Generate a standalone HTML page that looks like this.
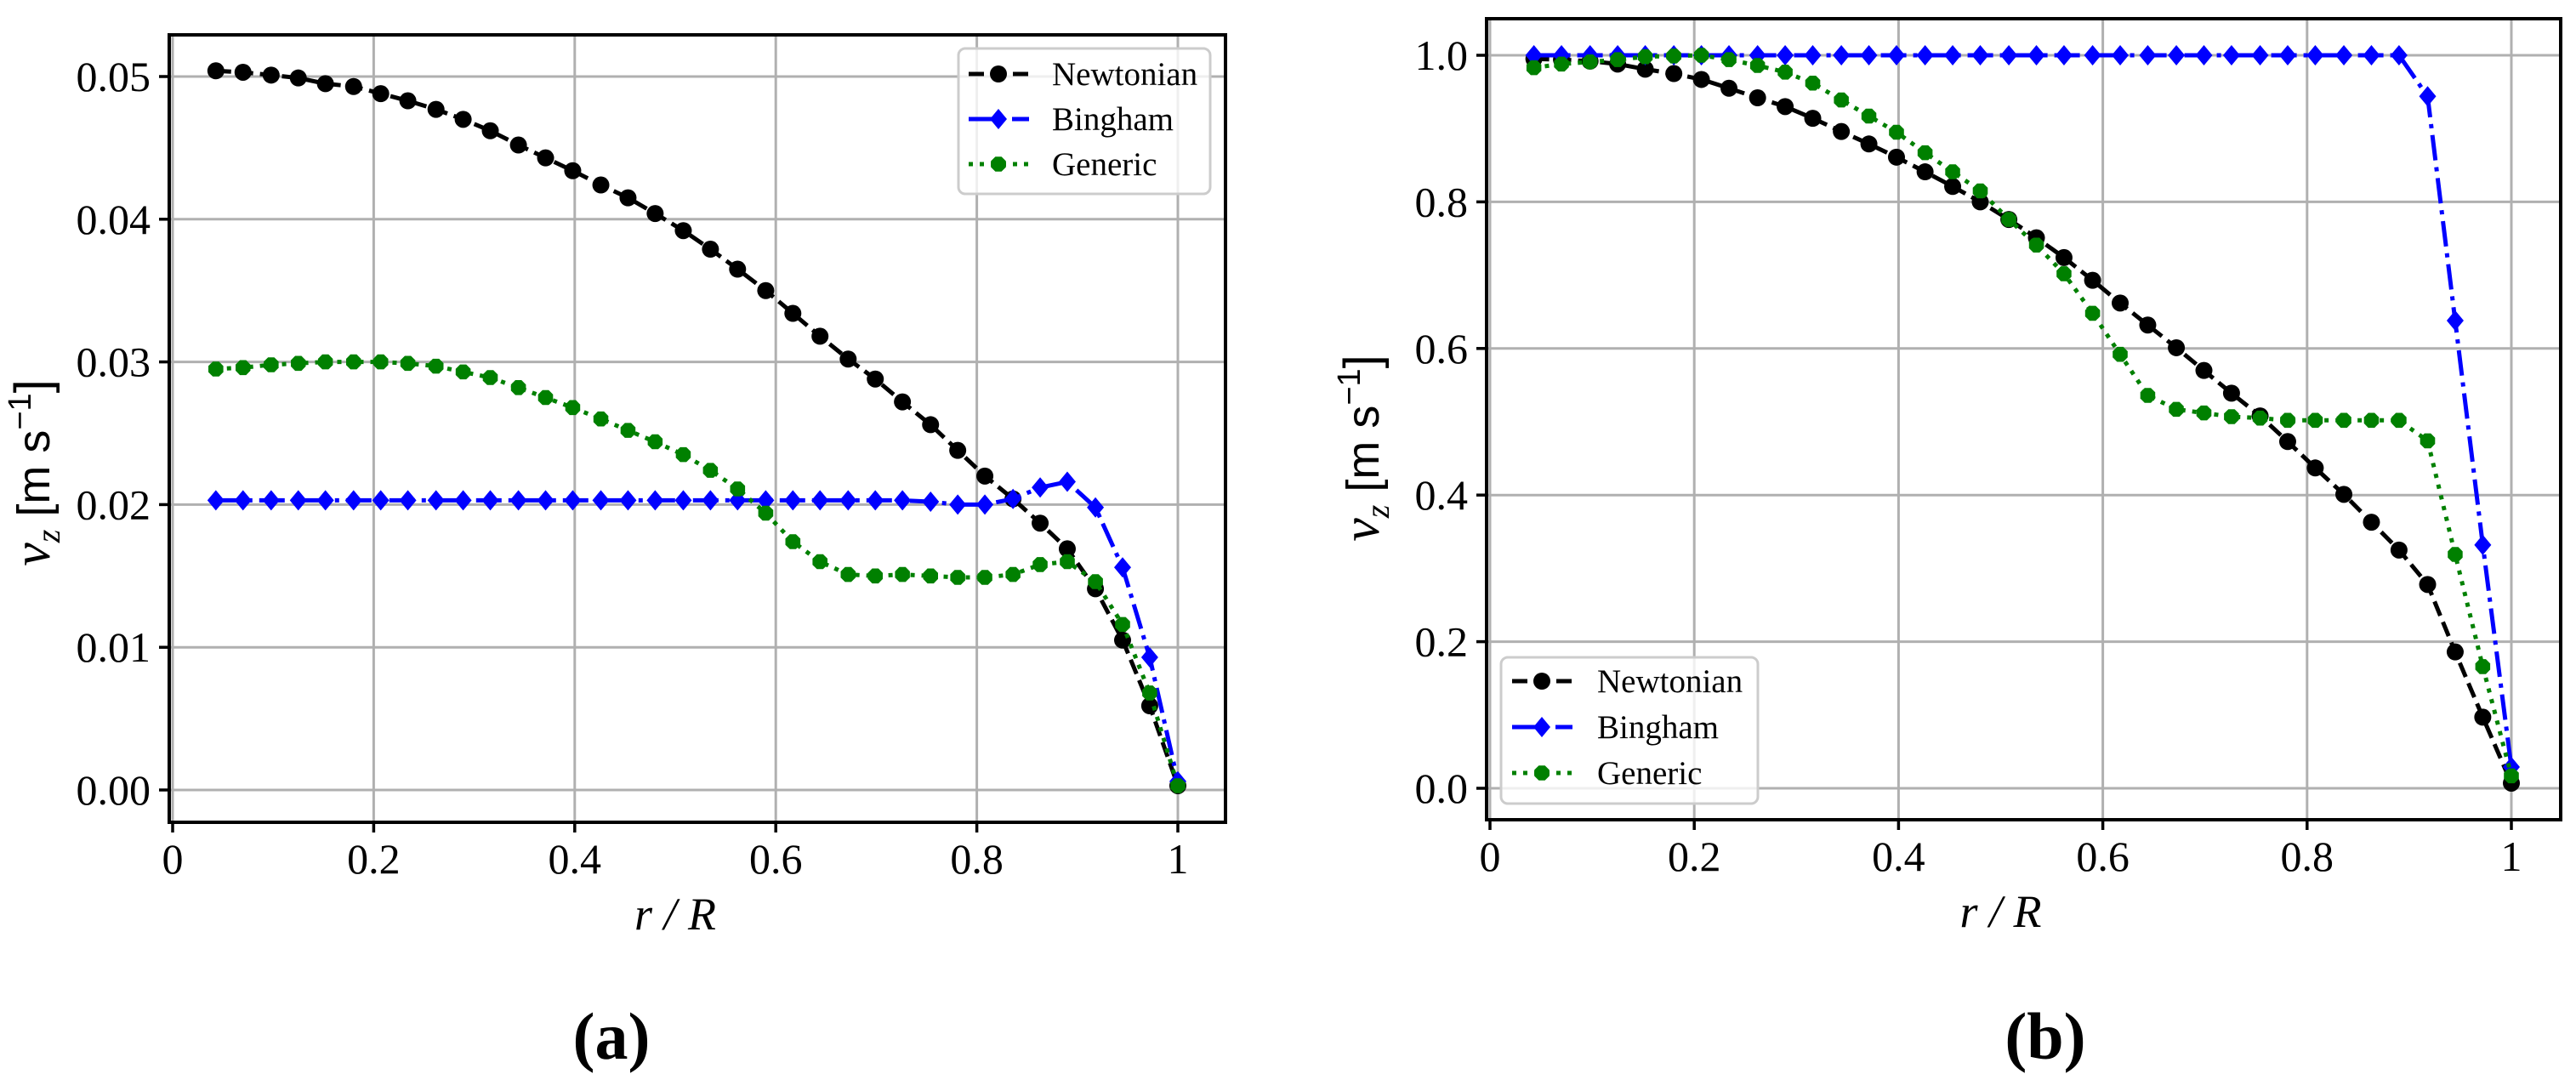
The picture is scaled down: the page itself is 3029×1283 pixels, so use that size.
<!DOCTYPE html>
<html><head><meta charset="utf-8"><style>
html,body{margin:0;padding:0;background:#fff;}
svg{display:block;font-family:"Liberation Serif",serif;}
</style></head><body>
<svg id="fig" width="3029" height="1283" viewBox="0 0 3029 1283" xmlns="http://www.w3.org/2000/svg"></svg>
<script>
// shared radial positions r/R
const rPos = [0.043,0.070,0.098,0.125,0.152,0.180,0.207,0.234,0.262,0.289,0.316,0.344,0.371,0.398,0.426,0.453,0.480,0.508,0.535,0.562,0.590,0.617,0.644,0.672,0.699,0.726,0.754,0.781,0.808,0.836,0.863,0.890,0.918,0.945,0.972,1.000];
// panel (a)
const aNewtonian = [0.0504,0.0503,0.0501,0.0499,0.0495,0.0493,0.0488,0.0483,0.0477,0.0470,0.0462,0.0452,0.0443,0.0434,0.0424,0.0415,0.0404,0.0392,0.0379,0.0365,0.0350,0.0334,0.0318,0.0302,0.0288,0.0272,0.0256,0.0238,0.0220,0.0204,0.0187,0.0169,0.0141,0.0105,0.0059,0.0003];
const aBingham = [0.0203,0.0203,0.0203,0.0203,0.0203,0.0203,0.0203,0.0203,0.0203,0.0203,0.0203,0.0203,0.0203,0.0203,0.0203,0.0203,0.0203,0.0203,0.0203,0.0203,0.0203,0.0203,0.0203,0.0203,0.0203,0.0203,0.0202,0.0200,0.0200,0.0204,0.0212,0.0216,0.0198,0.0156,0.0093,0.0006];
const aGeneric = [0.0295,0.0296,0.0298,0.0299,0.0300,0.0300,0.0300,0.0299,0.0297,0.0293,0.0289,0.0282,0.0275,0.0268,0.0260,0.0252,0.0244,0.0235,0.0224,0.0211,0.0194,0.0174,0.0160,0.0151,0.0150,0.0151,0.0150,0.0149,0.0149,0.0151,0.0158,0.0160,0.0146,0.0116,0.0068,0.0003];
const aYTicks = [0,0.01,0.02,0.03,0.04,0.05];
const aYTickLabels = ["0.00","0.01","0.02","0.03","0.04","0.05"];
// panel (b)
const bNewtonian = [0.995,0.994,0.992,0.988,0.981,0.975,0.967,0.955,0.942,0.930,0.914,0.896,0.879,0.861,0.841,0.821,0.800,0.776,0.751,0.724,0.693,0.662,0.632,0.601,0.570,0.539,0.508,0.473,0.437,0.401,0.363,0.325,0.278,0.186,0.097,0.007];
const bBingham = [1,1,1,1,1,1,1,1,1,1,1,1,1,1,1,1,1,1,1,1,1,1,1,1,1,1,1,1,1,1,1,1,0.944,0.638,0.332,0.029];
const bGeneric = [0.983,0.988,0.991,0.994,0.998,0.999,1.000,0.994,0.986,0.977,0.962,0.939,0.917,0.895,0.867,0.841,0.815,0.776,0.741,0.702,0.648,0.592,0.536,0.517,0.512,0.507,0.505,0.502,0.502,0.502,0.502,0.502,0.474,0.319,0.166,0.017];
const bYTicks = [0,0.2,0.4,0.6,0.8,1.0];
const bYTickLabels = ["0.0","0.2","0.4","0.6","0.8","1.0"];
const xTicks = [0,0.2,0.4,0.6,0.8,1];
const xTickLabels = ["0","0.2","0.4","0.6","0.8","1"];
const seriesNames = ["Newtonian","Bingham","Generic"];

const NS = "http://www.w3.org/2000/svg";
const svg = document.getElementById('fig');
function mk(tag, attrs, parent){
  const e = document.createElementNS(NS, tag);
  for (const k in attrs) e.setAttribute(k, attrs[k]);
  (parent||svg).appendChild(e);
  return e;
}
const styles = [
  {color:"#000000", dash:"18,8", marker:"circle"},
  {color:"#0000ff", dash:"30,8,5,8", marker:"diamond"},
  {color:"#008000", dash:"5,8", marker:"hex"}
];
function marker(g, kind, x, y, color){
  let e;
  if (kind==="circle") e = mk('circle',{cx:x,cy:y,r:10,fill:color},g);
  else if (kind==="diamond") e = mk('polygon',{points:`${x},${y-12} ${x+10},${y} ${x},${y+12} ${x-10},${y}`,fill:color},g);
  else {
    const p=[]; for(let k=0;k<8;k++){const a=Math.PI/8+k*Math.PI/4;p.push((x+9.5*Math.cos(a)).toFixed(1)+','+(y+9.5*Math.sin(a)).toFixed(1));}
    e = mk('polygon',{points:p.join(' '),fill:color},g);
  }
  
  
}

function drawPlot(P){
  const g = mk('g',{});
  
  
  const sx = v => P.x0 + (P.x1 - P.x0) * v;
  const sy = v => P.y0 + (P.yTop - P.y0) * (v / P.yTopVal);
  xTicks.forEach((t,i)=>{
    const l = mk('line',{x1:sx(t),x2:sx(t),y1:P.ft,y2:P.fb,stroke:"#b0b0b0","stroke-width":3},g);
    
    
    const tk = mk('line',{x1:sx(t),x2:sx(t),y1:P.fb,y2:P.fb+12,stroke:"#000","stroke-width":3.5},g);
    
    
    const tx = mk('text',{x:sx(t),y:P.fb+60,"font-size":50,"text-anchor":"middle",fill:"#000"},g);
    tx.textContent = xTickLabels[i];
    
    
  });
  P.yTicks.forEach((t,i)=>{
    const l = mk('line',{x1:P.fl,x2:P.fr,y1:sy(t),y2:sy(t),stroke:"#b0b0b0","stroke-width":3},g);
    
    
    const tk = mk('line',{x1:P.fl-12,x2:P.fl,y1:sy(t),y2:sy(t),stroke:"#000","stroke-width":3.5},g);
    
    
    const tx = mk('text',{x:P.fl-22,y:sy(t)+17,"font-size":50,"text-anchor":"end",fill:"#000"},g);
    tx.textContent = P.yTickLabels[i];
    
    
  });
  P.series.forEach((vals,si)=>{
    const st = styles[si];
    const sg = mk('g',{},g);
    
    
    const pts = rPos.map((r,i)=>sx(r).toFixed(1)+','+sy(vals[i]).toFixed(1)).join(' ');
    const pl = mk('polyline',{points:pts,fill:"none",stroke:st.color,"stroke-width":5,"stroke-dasharray":st.dash},sg);
    
    
    rPos.forEach((r,i)=>marker(sg, st.marker, sx(r), sy(vals[i]), st.color));
  });
  const fr = mk('rect',{x:P.fl,y:P.ft,width:P.fr-P.fl,height:P.fb-P.ft,fill:"none",stroke:"#000","stroke-width":4},g);
  
  
  const L = P.legend;
  const lg = mk('g',{},g);
  
  
  mk('rect',{x:L.x,y:L.y,width:L.w,height:L.h,rx:8,fill:"rgba(255,255,255,0.8)",stroke:"#cccccc","stroke-width":3},lg);
  seriesNames.forEach((n,si)=>{
    const st = styles[si];
    const cy = L.rows[si];
    const eg = mk('g',{},lg);
    
    
    mk('line',{x1:L.lx,x2:L.lx+71,y1:cy,y2:cy,stroke:st.color,"stroke-width":5,"stroke-dasharray":st.dash},eg);
    marker(eg, st.marker, L.lx+35, cy, st.color);
    const t = mk('text',{x:L.tx,y:cy+13,"font-size":39,fill:"#000"},eg);
    t.textContent = n;
  });
  const xl = mk('text',{x:(P.x0+P.x1)/2,y:P.fb+126,"font-size":54,"font-style":"italic","text-anchor":"middle",fill:"#000"},g);
  xl.textContent = "r / R";
  
  
  const yl = mk('text',{x:0,y:0,"font-size":56,"text-anchor":"middle",fill:"#000",transform:`translate(${P.ylx},${P.yly}) rotate(-90)`},g);
  yl.innerHTML = '<tspan font-style="italic" font-size="62">v</tspan><tspan font-style="italic" font-size="40" dy="12">z</tspan><tspan dy="-12" font-family="Liberation Sans, sans-serif" font-size="54"> [m s</tspan><tspan font-family="Liberation Sans, sans-serif" font-size="38" dy="-22">−1</tspan><tspan dy="22" font-family="Liberation Sans, sans-serif" font-size="58">]</tspan>';
  
  
  const cap = mk('text',{x:P.capX,y:1245,"font-size":78,"font-weight":"bold","text-anchor":"middle",fill:"#000"},g);
  cap.textContent = P.caption;
  
  
}

drawPlot({name:"panel-a", x0:203, x1:1385, y0:929, yTop:90, yTopVal:0.05,
  fl:199, fr:1441, ft:41, fb:967, yTicks:aYTicks, yTickLabels:aYTickLabels,
  series:[aNewtonian,aBingham,aGeneric],
  legend:{x:1127,y:57,w:296,h:171,rows:[87,140,193],lx:1139,tx:1237},
  ylx:58, yly:556, capX:719, caption:"(a)"});
drawPlot({name:"panel-b", x0:1752, x1:2953, y0:927, yTop:65, yTopVal:1.0,
  fl:1748, fr:3011, ft:22, fb:964, yTicks:bYTicks, yTickLabels:bYTickLabels,
  series:[bNewtonian,bBingham,bGeneric],
  legend:{x:1765,y:773,w:302,h:172,rows:[801,855,909],lx:1778,tx:1878},
  ylx:1621, yly:527, capX:2405, caption:"(b)"});
</script>
</body></html>
